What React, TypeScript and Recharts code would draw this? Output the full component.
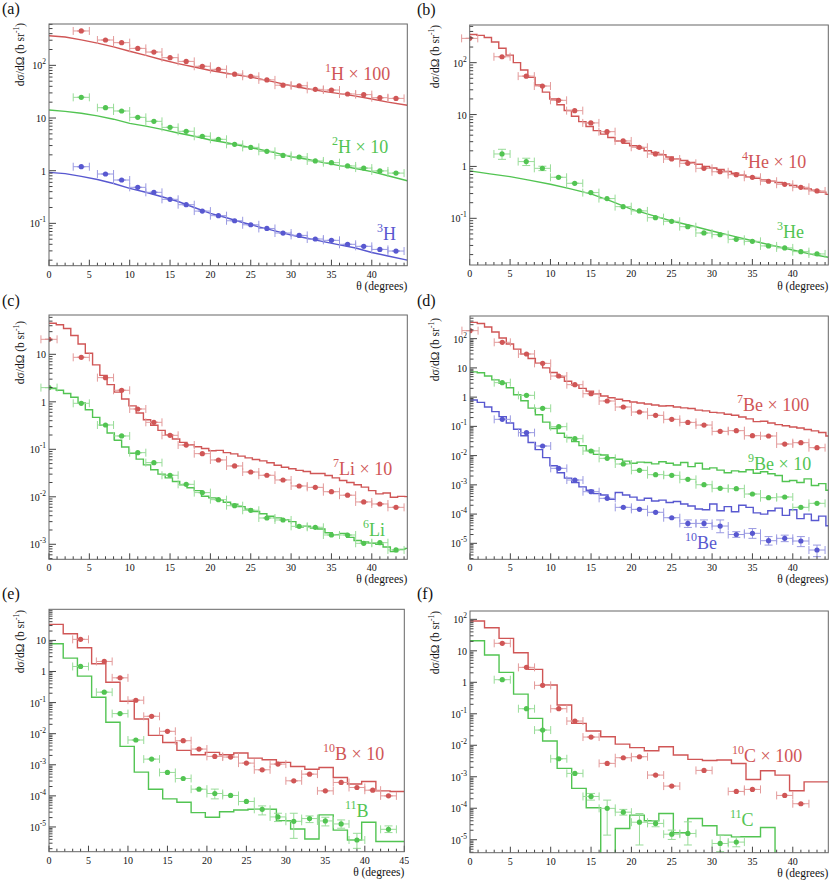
import React from 'react';
import { ComposedChart, Line, Scatter, XAxis, YAxis, ErrorBar } from 'recharts';

const FONT = "'Liberation Serif', 'DejaVu Serif', 'Times New Roman', Times, 'Nimbus Roman', FreeSerif, serif";
const RED = '#d05656';
const GREEN = '#52c452';
const BLUE = '#5858d0';
const RED_E = '#e39a9a';
const GREEN_E = '#98dc98';
const BLUE_E = '#9a9ae2';

// ---------- shared x positions ----------
const xPts = [4, 7, 9, 11, 13, 15, 17, 19, 21, 23, 25, 27, 29, 31, 33, 35, 37, 39, 41, 43];
const xPts0 = [0, 4, 7, 9, 11, 13, 15, 17, 19, 21, 23, 25, 27, 29, 31, 33, 35, 37, 39, 41, 43];
const edges09 = [0, 0.9, 1.8, 2.7, 3.6, 4.5, 5.4, 6.3, 7.2, 8.1, 9, 9.9, 10.8, 11.7, 12.6, 13.5, 14.4, 15.3, 16.2, 17.1, 18, 18.9, 19.8, 20.7, 21.6, 22.5, 23.4, 24.3, 25.2, 26.1, 27, 27.9, 28.8, 29.7, 30.6, 31.5, 32.4, 33.3, 34.2, 35.1, 36, 36.9, 37.8, 38.7, 39.6, 40.5, 41.4, 42.3, 43.2, 44.1, 45];
const edges18 = [0, 1.8, 3.6, 5.4, 7.2, 9, 10.8, 12.6, 14.4, 16.2, 18, 19.8, 21.6, 23.4, 25.2, 27, 28.8, 30.6, 32.4, 34.2, 36, 37.8, 39.6, 41.4, 43.2, 45];

// ---------- panel (a) ----------
const xCurveA = [0, 2, 4, 6, 8, 10, 12, 14, 16, 18, 20, 22, 24, 26, 28, 30, 32, 34, 36, 38, 40, 42, 44.4];
const h1Curve = [366, 345, 305, 265, 225, 185, 155, 128, 108, 93, 80, 71, 63, 56, 48, 41, 36, 32, 29, 26, 23, 20, 17.5];
const h2Curve = [14.2, 13.4, 12.3, 11.0, 9.5, 7.9, 7.0, 6.1, 5.2, 4.5, 3.82, 3.4, 2.95, 2.55, 2.2, 1.84, 1.65, 1.42, 1.25, 1.1, 0.96, 0.8, 0.645];
const h3Curve = [0.93, 0.88, 0.78, 0.68, 0.57, 0.462, 0.39, 0.32, 0.26, 0.2, 0.155, 0.128, 0.104, 0.086, 0.072, 0.06, 0.052, 0.045, 0.039, 0.034, 0.028, 0.024, 0.02];
const h1Pts = [450, 303, 270, 210, 179, 140, 119, 96, 84, 68, 62, 53, 42, 41, 35, 34, 28.6, 27.8, 24.3, 23.6];
const h2Pts = [24.7, 15.7, 13.6, 10.3, 8.65, 6.65, 5.6, 4.5, 3.94, 3.16, 2.77, 2.33, 1.95, 1.82, 1.53, 1.42, 1.23, 1.12, 0.99, 0.9];
const h3Pts = [1.19, 0.865, 0.665, 0.483, 0.388, 0.286, 0.226, 0.171, 0.14, 0.112, 0.094, 0.08, 0.0655, 0.059, 0.0504, 0.0476, 0.04, 0.0366, 0.032, 0.0298];

// ---------- panel (b) ----------
const he4Steps = [350, 335, 305, 250, 190, 140, 100, 72, 52, 37, 27, 20, 15.5, 12, 9.3, 7.3, 5.9, 4.9, 4.2, 3.6, 3.1, 2.8, 2.5, 2.25, 2.0, 1.85, 1.68, 1.52, 1.4, 1.3, 1.2, 1.1, 1.0, 0.93, 0.87, 0.8, 0.74, 0.68, 0.63, 0.59, 0.55, 0.52, 0.49, 0.46, 0.43, 0.4, 0.37, 0.35, 0.32, 0.29];
const xCurveB = [0, 2.5, 5, 7.5, 10, 12.5, 15, 17.5, 20, 22.5, 25, 27.5, 30, 32.5, 35, 37.5, 40, 42.5, 44.4];
const he3Curve = [0.82, 0.72, 0.635, 0.54, 0.453, 0.37, 0.295, 0.215, 0.15, 0.115, 0.089, 0.072, 0.057, 0.046, 0.037, 0.03, 0.0245, 0.02, 0.0178];
const he4Pts = [294, 130, 55, 35.5, 18.8, 11.9, 6.9, 4.68, 3.1, 2.34, 1.74, 1.39, 1.15, 0.92, 0.79, 0.695, 0.618, 0.518, 0.453, 0.396, 0.337];
const he3Pts = [1.74, 1.24, 0.92, 0.618, 0.473, 0.313, 0.24, 0.168, 0.139, 0.103, 0.0877, 0.069, 0.0522, 0.0485, 0.0394, 0.036, 0.0294, 0.0269, 0.0228, 0.0206];
const he3Err: ([number, number] | null)[] = [[1.37, 2.14], [1.04, 1.44], [0.83, 1.01], null, null, null, null, null, null, null, null, null, null, null, null, null, null, null, null, null];

// ---------- panel (c) ----------
const li7Steps = [45, 42, 35, 25, 16.5, 10.5, 6, 3.6, 2.3, 1.6, 1.15, 0.82, 0.58, 0.42, 0.32, 0.25, 0.2, 0.165, 0.14, 0.125, 0.113, 0.104, 0.093, 0.095, 0.085, 0.08, 0.072, 0.066, 0.061, 0.057, 0.052, 0.046, 0.042, 0.039, 0.036, 0.034, 0.031, 0.031, 0.028, 0.025, 0.022, 0.02, 0.018, 0.016, 0.0135, 0.0115, 0.012, 0.0098, 0.0102, 0.0101];
const li6Steps = [1.9, 1.75, 1.5, 1.25, 0.95, 0.68, 0.47, 0.32, 0.22, 0.155, 0.112, 0.082, 0.062, 0.047, 0.037, 0.03, 0.025, 0.021, 0.018, 0.0155, 0.0135, 0.0103, 0.0095, 0.0085, 0.0077, 0.007, 0.0062, 0.0055, 0.0049, 0.0044, 0.0039, 0.0036, 0.0033, 0.003, 0.0023, 0.0024, 0.0022, 0.0021, 0.00175, 0.0016, 0.0017, 0.0014, 0.0012, 0.00112, 0.00105, 0.001, 0.00088, 0.0007, 0.00078, 0.00082];
const li7Pts = [20.7, 8.65, 3.23, 1.75, 0.706, 0.37, 0.197, 0.123, 0.081, 0.0596, 0.0446, 0.0333, 0.0284, 0.0226, 0.0169, 0.0158, 0.0128, 0.0108, 0.00779, 0.00706, 0.006];
const li6Pts = [1.99, 0.93, 0.325, 0.191, 0.085, 0.0524, 0.0284, 0.0183, 0.01225, 0.0087, 0.0065, 0.0052, 0.00358, 0.00325, 0.00239, 0.00228, 0.00157, 0.00157, 0.00105, 0.00108, 0.00076];

// ---------- panel (d) ----------
const be7Steps = [360, 330, 250, 170, 105, 66, 44, 30, 21, 14.5, 10, 7, 4.9, 3.5, 2.6, 2.0, 1.6, 1.3, 1.1, 0.95, 0.85, 0.75, 0.68, 0.63, 0.58, 0.54, 0.5, 0.51, 0.46, 0.43, 0.41, 0.36, 0.34, 0.3, 0.29, 0.26, 0.24, 0.21, 0.18, 0.145, 0.15, 0.13, 0.115, 0.105, 0.095, 0.088, 0.078, 0.07, 0.062, 0.047];
const be9Steps = [7.3, 6.8, 5.3, 3.9, 3.0, 2.1, 1.2, 0.75, 0.42, 0.25, 0.14, 0.085, 0.058, 0.042, 0.03, 0.022, 0.015, 0.011, 0.0105, 0.0085, 0.0075, 0.0065, 0.0055, 0.006, 0.0058, 0.0052, 0.0062, 0.0055, 0.0048, 0.0058, 0.0042, 0.0055, 0.0035, 0.0038, 0.0032, 0.0026, 0.003, 0.0028, 0.0033, 0.0025, 0.0028, 0.0024, 0.0021, 0.0013, 0.0014, 0.0012, 0.0016, 0.00095, 0.0011, 0.00065];
const be10Steps = [0.8, 0.66, 0.46, 0.32, 0.215, 0.13, 0.08, 0.048, 0.028, 0.016, 0.0085, 0.0045, 0.0026, 0.0017, 0.0012, 0.00085, 0.00065, 0.0005, 0.00045, 0.00032, 0.00055, 0.00045, 0.00038, 0.0003, 0.00035, 0.00028, 0.0003, 0.00025, 0.00027, 0.00022, 0.00019, 0.00015, 0.00014, 0.00022, 0.00013, 0.00018, 0.00012, 0.0002, 0.00017, 0.00011, 0.0001, 0.00013, 0.00016, 0.00009, 0.00014, 0.00007, 0.0001, 0.00006, 0.000085, 0.00004];
const be7Pts = [188, 75, 29.9, 14.3, 5.28, 2.67, 1.31, 0.738, 0.46, 0.31, 0.238, 0.174, 0.137, 0.111, 0.0676, 0.0713, 0.048, 0.0468, 0.0249, 0.0277, 0.0187];
const be9Pts = [3.13, 1.15, 0.414, 0.0977, 0.038, 0.0144, 0.00805, 0.00516, 0.00313, 0.00223, 0.00211, 0.00154, 0.00101, 0.00076, 0.00074, 0.000486, 0.000364, 0.000384, 0.00017, 0.000233];
const be10Pts = [0.174, 0.061, 0.0213, 0.00367, 0.00146, 0.000583, 0.000345, 0.00017, 0.000145, 0.000115, 0.000075, 0.000048, 0.000048, 0.000039, 0.00002, 0.000022, 0.0000123, 0.0000148, 0.000012, 0.0000059];
const be10Err: ([number, number] | null)[] = [null, null, null, null, null, null, null, null, null, null, null, [0.000035, 0.000063], [0.000035, 0.000063], [0.000023, 0.000063], [0.000016, 0.000025], [0.0000148, 0.000032], [0.0000087, 0.000017], [0.0000114, 0.000019], [0.0000077, 0.000017], [0.0000035, 0.0000087]];

// ---------- panel (e) ----------
const b10Steps = [32.8, 16.4, 5.8, 1.77, 0.453, 0.11, 0.0297, 0.0088, 0.0052, 0.0029, 0.0021, 0.0025, 0.0021, 0.00238, 0.00164, 0.00145, 0.00119, 0.00088, 0.00072, 0.00082, 0.00039, 0.00024, 0.00029, 0.000145, 0.000138];
const b11Steps = [7.8, 2.69, 0.71, 0.149, 0.0232, 0.0039, 0.00058, 0.000164, 0.00008, 0.0000625, 0.000029, 0.0000205, 0.000031, 0.000035, 0.000037, 0.000037, 0.000016, 0.0000086, 0.0000041, 0.0000244, 0.0000079, 0.0000038, 0.0000142, 0.0000034, 0.0000034];
const b10Pts = [10.8, 2.1, 0.625, 0.119, 0.0362, 0.0119, 0.00594, 0.0032, 0.00186, 0.00177, 0.00113, 0.00069, 0.00105, 0.000305, 0.0005, 0.000145, 0.00027, 0.000186, 0.000152, 0.0001];
const b11X = [4, 7, 9, 11, 13, 15, 17, 19, 21, 23, 25, 27, 29, 31, 33, 35, 37, 39, 43];
const b11Pts = [1.45, 0.216, 0.0442, 0.00625, 0.00152, 0.000566, 0.000362, 0.000164, 0.000119, 0.000103, 0.000066, 0.000037, 0.000021, 0.0000152, 0.0000186, 0.0000156, 0.0000125, 0.0000038, 0.0000084];
const b11Err: ([number, number] | null)[] = [null, null, null, null, null, null, null, null, [0.00008, 0.000165], null, null, [0.0000244, 0.0000475], [0.0000149, 0.0000276], [0.0000043, 0.0000276], [0.0000138, 0.0000226], [0.0000108, 0.0000205], [0.0000091, 0.0000168], [0.00000205, 0.00000625], [0.0000066, 0.0000108]];

// ---------- panel (f) ----------
const c10Steps = [88.6, 54, 24.9, 8.7, 2.58, 0.82, 0.19, 0.0496, 0.0283, 0.0187, 0.0109, 0.0084, 0.0067, 0.009, 0.0049, 0.00356, 0.0033, 0.0034, 0.00265, 0.00082, 0.00155, 0.00113, 0.00036, 0.00069, 0.00069];
const c11Steps = [21, 7.4, 2.07, 0.42, 0.0714, 0.0136, 0.00184, 0.000426, 0.000104, 1e-9, 0.0000228, 0.0000605, 0.00004, 0.000068, 0.0000166, 0.000047, 0.0000277, 0.000014, 0.0000124, 0.0000124, 0.0000245, 1e-9, 1e-9, 1e-9, 1e-9];
const c10X = [4, 7, 9, 11, 13, 15, 17, 19, 21, 23, 25, 29, 33, 35, 39, 41];
const c10Pts = [17.3, 2.98, 0.8, 0.145, 0.0588, 0.01823, 0.00266, 0.00402, 0.00432, 0.00113, 0.000505, 0.00159, 0.000342, 0.000396, 0.000255, 0.000139];
const c11X = [4, 7, 9, 11, 13, 15, 17, 19, 21, 23, 25, 27, 31, 33];
const c11Pts = [1.21, 0.145, 0.0304, 0.00373, 0.00128, 0.000237, 0.000099, 0.000075, 0.000036, 0.000033, 0.000015, 0.0000158, 0.0000076, 0.0000084];
const c11Err: ([number, number] | null)[] = [null, null, null, null, null, [0.000181, 0.000295], [0.000014, 0.000181], [0.0000605, 0.000092], [0.0000068, 0.000068], [0.0000258, 0.00004], [0.0000102, 0.0000202], [0.0000068, 0.000037], [0.0000042, 0.000014], [0.00000596, 0.0000124]];

// ---------- axis tick values ----------
const yLabA = [0.1, 1, 10, 100];
const yLabC = [0.001, 0.01, 0.1, 1, 10];
const yLabD = [0.00001, 0.0001, 0.001, 0.01, 0.1, 1, 10, 100];
const yLabE = [0.00001, 0.0001, 0.001, 0.01, 0.1, 1, 10];
const xTicks44 = Array.from({ length: 45 }, (_, i) => i);
const xTicks45 = Array.from({ length: 46 }, (_, i) => i);

// ---------- helpers to build library tables ----------
type Pt = { x: number; y: number; ex: number; ey: [number, number] };
function pts(xs: number[], ys: number[], err?: ([number, number] | null)[]): Pt[] {
  return xs.map((x, i) => {
    const y = ys[i];
    const e = err ? err[i] : null;
    return { x, y, ex: 1, ey: e ? [y - e[0], e[1] - y] : [0, 0] };
  });
}
function steps(edges: number[], vals: number[]) {
  return edges.map((x, i) => ({ x, y: vals[Math.min(i, vals.length - 1)] }));
}
function curve(xs: number[], ys: number[]) {
  return xs.map((x, i) => ({ x, y: ys[i] }));
}
function minorTicks(majors: number[], dom: [number, number]) {
  const decades = [majors[0] / 10, ...majors];
  const out: number[] = [];
  decades.forEach((d) => {
    for (let m = 1; m <= 9; m++) {
      const v = m === 1 ? d : d * m;
      if (v >= dom[0] && v <= dom[1]) out.push(v);
    }
  });
  return out;
}

type LineS = { data: { x: number; y: number }[]; color: string; step: boolean };
type PtS = { data: Pt[]; color: string; ecolor: string };
type Lab = { sup: string; text: string; x: number; y: number; color: string };
type Panel = {
  letter: string; ox: number; oy: number; w: number; h: number;
  l: number; t: number; r: number; b: number;
  xMax: number; xTicks: number[]; yDom: [number, number]; yLab: number[];
  lines: LineS[]; points: PtS[]; labels: Lab[];
  letterY: number; yTitleTop: number; xTitleY: number;
};

const panels: Panel[] = [
  {
    letter: '(a)', ox: 0, oy: 0, w: 415, h: 290, l: 49, t: 24, r: 407.3, b: 265.7,
    xMax: 44.4, xTicks: xTicks44, yDom: [0.0157, 610], yLab: yLabA,
    lines: [
      { data: curve(xCurveA, h1Curve), color: RED, step: false },
      { data: curve(xCurveA, h2Curve), color: GREEN, step: false },
      { data: curve(xCurveA, h3Curve), color: BLUE, step: false },
    ],
    points: [
      { data: pts(xPts, h1Pts), color: RED, ecolor: RED_E },
      { data: pts(xPts, h2Pts), color: GREEN, ecolor: GREEN_E },
      { data: pts(xPts, h3Pts), color: BLUE, ecolor: BLUE_E },
    ],
    labels: [
      { sup: '1', text: 'H × 100', x: 325, y: 80, color: RED },
      { sup: '2', text: 'H × 10', x: 332, y: 153, color: GREEN },
      { sup: '3', text: 'H', x: 377, y: 240, color: BLUE },
    ],
    letterY: 14, yTitleTop: 23, xTitleY: 289.5,
  },
  {
    letter: '(b)', ox: 415, oy: 0, w: 415, h: 290, l: 54.7, t: 25, r: 413.3, b: 265,
    xMax: 44.4, xTicks: xTicks44, yDom: [0.0126, 532], yLab: yLabA,
    lines: [
      { data: steps(edges09, he4Steps), color: RED, step: true },
      { data: curve(xCurveB, he3Curve), color: GREEN, step: false },
    ],
    points: [
      { data: pts(xPts0, he4Pts), color: RED, ecolor: RED_E },
      { data: pts(xPts, he3Pts, he3Err), color: GREEN, ecolor: GREEN_E },
    ],
    labels: [
      { sup: '4', text: 'He × 10', x: 327, y: 168, color: RED },
      { sup: '3', text: 'He', x: 362, y: 238, color: GREEN },
    ],
    letterY: 15, yTitleTop: 25, xTitleY: 289.5,
  },
  {
    letter: '(c)', ox: 0, oy: 290, w: 415, h: 290, l: 49, t: 25, r: 407.3, b: 269.3,
    xMax: 44.4, xTicks: xTicks44, yDom: [0.000483, 67.3], yLab: yLabC,
    lines: [
      { data: steps(edges09, li7Steps), color: RED, step: true },
      { data: steps(edges09, li6Steps), color: GREEN, step: true },
    ],
    points: [
      { data: pts(xPts0, li7Pts), color: RED, ecolor: RED_E },
      { data: pts(xPts0, li6Pts), color: GREEN, ecolor: GREEN_E },
    ],
    labels: [
      { sup: '7', text: 'Li × 10', x: 333, y: 185, color: RED },
      { sup: '6', text: 'Li', x: 363, y: 246, color: GREEN },
    ],
    letterY: 16, yTitleTop: 31, xTitleY: 293,
  },
  {
    letter: '(d)', ox: 415, oy: 290, w: 415, h: 290, l: 55, t: 26, r: 413.3, b: 269.3,
    xMax: 44.4, xTicks: xTicks44, yDom: [0.00000284, 596], yLab: yLabD,
    lines: [
      { data: steps(edges09, be7Steps), color: RED, step: true },
      { data: steps(edges09, be9Steps), color: GREEN, step: true },
      { data: steps(edges09, be10Steps), color: BLUE, step: true },
    ],
    points: [
      { data: pts(xPts0, be7Pts), color: RED, ecolor: RED_E },
      { data: pts(xPts, be9Pts), color: GREEN, ecolor: GREEN_E },
      { data: pts(xPts, be10Pts, be10Err), color: BLUE, ecolor: BLUE_E },
    ],
    labels: [
      { sup: '7', text: 'Be × 100', x: 322, y: 121, color: RED },
      { sup: '9', text: 'Be × 10', x: 333, y: 180, color: GREEN },
      { sup: '10', text: 'Be', x: 270, y: 259, color: BLUE },
    ],
    letterY: 16, yTitleTop: 28, xTitleY: 293,
  },
  {
    letter: '(e)', ox: 0, oy: 580, w: 409, h: 300, l: 49, t: 29.3, r: 404.3, b: 271.7,
    xMax: 45, xTicks: xTicks45, yDom: [0.0000016, 100], yLab: yLabE,
    lines: [
      { data: steps(edges18, b10Steps), color: RED, step: true },
      { data: steps(edges18, b11Steps), color: GREEN, step: true },
    ],
    points: [
      { data: pts(xPts, b10Pts), color: RED, ecolor: RED_E },
      { data: pts(b11X, b11Pts, b11Err), color: GREEN, ecolor: GREEN_E },
    ],
    labels: [
      { sup: '10', text: 'B × 10', x: 323, y: 180, color: RED },
      { sup: '11', text: 'B', x: 345, y: 237, color: GREEN },
    ],
    letterY: 19, yTitleTop: 30, xTitleY: 296,
  },
  {
    letter: '(f)', ox: 415, oy: 580, w: 415, h: 300, l: 55, t: 31, r: 413.3, b: 272.7,
    xMax: 44.4, xTicks: xTicks44, yDom: [0.00000387, 184], yLab: yLabD,
    lines: [
      { data: steps(edges18, c10Steps), color: RED, step: true },
      { data: steps(edges18, c11Steps), color: GREEN, step: true },
    ],
    points: [
      { data: pts(c10X, c10Pts), color: RED, ecolor: RED_E },
      { data: pts(c11X, c11Pts, c11Err), color: GREEN, ecolor: GREEN_E },
    ],
    labels: [
      { sup: '10', text: 'C × 100', x: 317, y: 182, color: RED },
      { sup: '11', text: 'C', x: 315, y: 246, color: GREEN },
    ],
    letterY: 19, yTitleTop: 31, xTitleY: 297,
  },
];

const TICK = '#444';
const X_AXIS_H = 20;
const Y_AXIS_W = 40;

const XTick = (props: any) => {
  const { x, y, payload } = props;
  const v = payload.value as number;
  const major = Math.abs(v / 5 - Math.round(v / 5)) < 1e-6;
  return (
    <g>
      <line x1={x} x2={x} y1={y} y2={y - (major ? 6 : 3)} stroke={TICK} strokeWidth={1} />
      {major && (
        <text x={x} y={y + 12} textAnchor="middle" fontSize={10} fontFamily={FONT} fill="#111">
          {v}
        </text>
      )}
    </g>
  );
};

const makeYTick = (labeled: number[]) => (props: any) => {
  const { x, y, payload } = props;
  const v = payload.value as number;
  const lg = Math.log10(v);
  const e = Math.round(lg);
  const decade = Math.abs(lg - e) < 1e-6;
  const isLab = decade && labeled.some((l) => Math.abs(Math.log10(l) - e) < 1e-6);
  return (
    <g>
      <line x1={x} x2={x + (decade ? 7 : 3.5)} y1={y} y2={y} stroke={TICK} strokeWidth={1} />
      {isLab && (
        <text x={x - 3} y={y + 4} textAnchor="end" fontSize={10} fontFamily={FONT} fill="#111">
          {e === 0 ? '1' : e === 1 ? '10' : (
            <>
              10
              <tspan fontSize={7.5} dy={-5}>{String(e)}</tspan>
            </>
          )}
        </text>
      )}
    </g>
  );
};

function PanelView({ p }: { p: Panel }) {
  const yTicks = minorTicks(p.yLab, p.yDom);
  const YT = makeYTick(p.yLab);
  return (
    <>
      <div style={{ position: 'absolute', left: p.ox, top: p.oy, width: p.w, height: p.h }}>
        <ComposedChart
          width={p.w}
          height={p.h}
          margin={{ top: p.t, left: p.l - Y_AXIS_W, right: p.w - p.r, bottom: p.h - p.b - X_AXIS_H }}
        >
          <XAxis
            type="number"
            dataKey="x"
            domain={[0, p.xMax]}
            allowDataOverflow
            ticks={p.xTicks}
            interval={0}
            height={X_AXIS_H}
            tickSize={0}
            tickMargin={0}
            axisLine={false}
            tickLine={false}
            tick={(tp: any) => <XTick {...tp} />}
          />
          <YAxis
            type="number"
            dataKey="y"
            scale="log"
            domain={p.yDom}
            allowDataOverflow
            ticks={yTicks}
            interval={0}
            width={Y_AXIS_W}
            tickSize={0}
            tickMargin={0}
            axisLine={false}
            tickLine={false}
            tick={(tp: any) => <YT {...tp} />}
          />
          {p.lines.map((s, i) => (
            <Line
              key={'l' + i}
              data={s.data}
              dataKey="y"
              type={s.step ? 'stepAfter' : 'linear'}
              stroke={s.color}
              strokeWidth={1.4}
              dot={false}
              activeDot={false}
              isAnimationActive={false}
            />
          ))}
          {p.points.map((s, i) => (
            <Scatter
              key={'s' + i}
              data={s.data}
              dataKey="y"
              isAnimationActive={false}
              shape={(sp: any) => <circle cx={sp.cx} cy={sp.cy} r={2.6} fill={s.color} />}
            >
              <ErrorBar dataKey="ex" direction="x" width={4} stroke={s.ecolor} strokeWidth={1} />
              <ErrorBar dataKey="ey" direction="y" width={4} stroke={s.ecolor} strokeWidth={1} />
            </Scatter>
          ))}
        </ComposedChart>
      </div>
      <svg
        width={p.w}
        height={p.h}
        style={{ position: 'absolute', left: p.ox, top: p.oy, overflow: 'visible', pointerEvents: 'none' }}
      >
        <rect x={p.l} y={p.t} width={p.r - p.l} height={p.b - p.t} fill="none" stroke="#666" strokeWidth={1} />
        <text x={2} y={p.letterY} fontSize={16} fontFamily={FONT} fill="#111">{p.letter}</text>
        <text
          transform={`translate(24,${p.yTitleTop}) rotate(-90)`}
          textAnchor="end"
          fontSize={11.5}
          fontFamily={FONT}
          fill="#111"
        >
          dσ/dΩ (b sr<tspan fontSize={7.5} dy={-5}>-1</tspan><tspan dy={5}>)</tspan>
        </text>
        <text x={p.r} y={p.xTitleY} textAnchor="end" fontSize={11.5} fontFamily={FONT} fill="#111">
          θ (degrees)
        </text>
        {p.labels.map((lb, i) => (
          <text key={i} x={lb.x} y={lb.y} fontSize={18} fontFamily={FONT} fill={lb.color}>
            <tspan fontSize={12} dy={-8}>{lb.sup}</tspan>
            <tspan dy={8}>{lb.text}</tspan>
          </text>
        ))}
      </svg>
    </>
  );
}

export default function App() {
  return (
    <div style={{ position: 'absolute', left: 0, top: 0, width: 830, height: 880, background: '#fff' }}>
      {panels.map((p) => (
        <PanelView key={p.letter} p={p} />
      ))}
    </div>
  );
}
